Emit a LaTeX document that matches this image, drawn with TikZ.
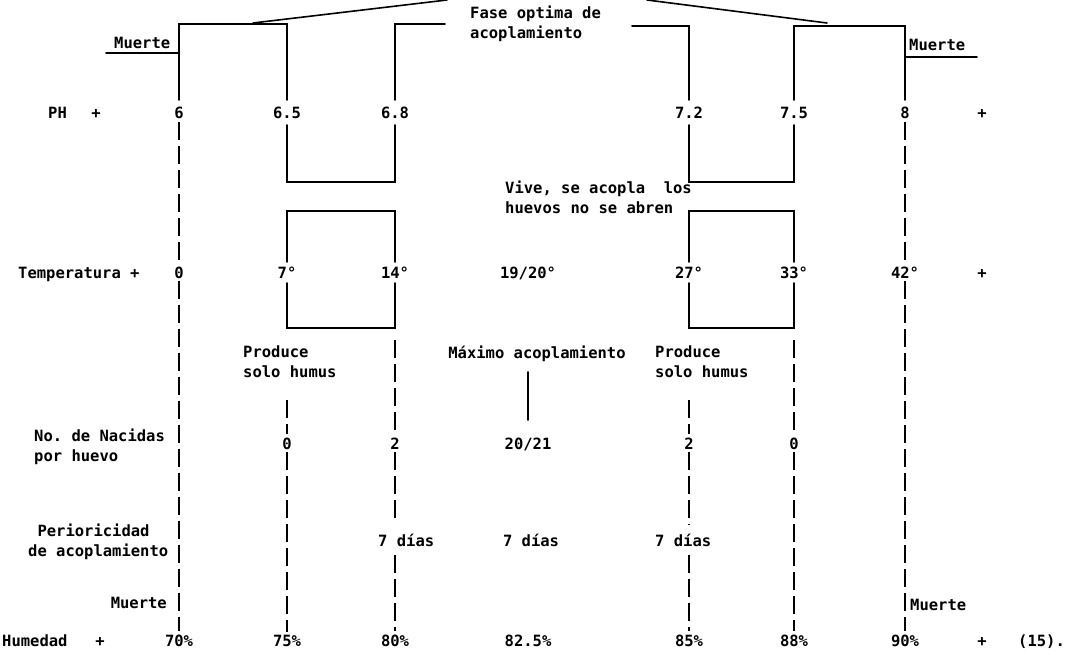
\documentclass[tikz,border=0pt]{standalone}
\usepackage{fontspec}
\setmonofont{DejaVu Sans Mono}
\usetikzlibrary{positioning}

\begin{document}
\begin{tikzpicture}[x=1pt, y=-1pt,
      txt/.style={font=\ttfamily\bfseries\fontsize{15.5}{20}\selectfont,
                  inner sep=0pt, anchor=base},
      lbl/.style={txt, anchor=base west, align=left},
      val/.style={txt, inner sep=3pt},
      rule/.style={line width=1.6pt, line cap=round},
      typed/.style={line width=1.5pt, dash pattern=on 18pt off 6pt},
    ]
    \useasboundingbox (0,0) rectangle (1067,655);
    %% column positions
    \def\xa{179} \def\xb{287} \def\xc{395} \def\xm{528}
    \def\xd{689} \def\xe{794} \def\xf{905}

    %% top: fase optima (base = last line)
    \node[lbl] (fase) at (470,39) {Fase optima de\\acoplamiento};
    \draw[rule] (\xa,100) -- (\xa,24) -- (\xb,24) -- (\xb,100);
    \draw[rule] (\xc,100) -- (\xc,24) -- (445,24);
    \draw[rule] (632,26) -- (\xd,26) -- (\xd,100);
    \draw[rule] (\xe,100) -- (\xe,26) -- (\xf,26) -- (\xf,100);
    \draw[rule] (253,23) -- (447,0);
    \draw[rule] (647,0) -- (827,23);
    %% muerte (top)
    \node[lbl] (muerte-l) at (114,49) {Muerte};
    \draw[rule] (106,53) -- (\xa,53);
    \node[lbl] (muerte-r) at (909,51) {Muerte};
    \draw[rule] (\xf,57) -- (977,57);

    %% PH row
    \node[lbl] (ph) at (48,119) {PH};
    \node[txt] (ph-p) at (96,119) {+};
    \node[val] (ph-a) at (\xa,119) {6};
    \node[val] (ph-b) at (\xb,119) {6.5};
    \node[val] (ph-c) at (\xc,119) {6.8};
    \node[val] (ph-d) at (\xd,119) {7.2};
    \node[val] (ph-e) at (\xe,119) {7.5};
    \node[val] (ph-f) at (\xf,119) {8};
    \node[txt] (ph-q) at (982,119) {+};

    %% boxes between the rows
    \foreach \l/\r in {\xb/\xc, \xd/\xe}{
        \draw[rule] (\l,125) -- (\l,182) -- (\r,182) -- (\r,125);
        \draw[rule] (\l,262) -- (\l,211) -- (\r,211) -- (\r,262);
        \draw[rule] (\l,283) -- (\l,328) -- (\r,328) -- (\r,283);
      }
    \node[lbl] (vive) at (505,213) {Vive, se acopla\ \ los\\huevos no se abren};

    %% temperature row
    \node[lbl] (temp) at (18,278) {Temperatura +};
    \node[val] (t-a) at (\xa,278) {0};
    \node[val] (t-b) at (\xb,278) {7°};
    \node[val] (t-c) at (\xc,278) {14°};
    \node[val] (t-m) at (\xm,278) {19/20°};
    \node[val] (t-d) at (\xd,278) {27°};
    \node[val] (t-e) at (\xe,278) {33°};
    \node[val] (t-f) at (\xf,278) {42°};
    \node[txt] (t-q) at (982,278) {+};

    \node[lbl] (prod-l) at (243,377) {Produce\\solo humus};
    \node[lbl] (prod-r) at (655,377) {Produce\\solo humus};
    \node[txt] (maximo) at (537,358) {Máximo acoplamiento};

    %% nacidas row
    \node[lbl] (nac) at (34,461) {No. de Nacidas\\por huevo};
    \node[val] (n-b) at (\xb,449) {0};
    \node[val] (n-c) at (\xc,449) {2};
    \node[val] (n-m) at (\xm,449) {20/21};
    \node[val] (n-d) at (\xd,449) {2};
    \node[val] (n-e) at (\xe,449) {0};
    \draw[rule] (\xm,372) -- (\xm,420);

    %% perioricidad row
    \node[lbl] (per) at (28,556) {\ Perioricidad\\de acoplamiento};
    \node[lbl] (p-c) at (378,546) {7 días};
    \node[txt] (p-m) at (531,546) {7 días};
    \node[lbl] (p-d) at (655,546) {7 días};

    %% muerte (bottom)
    \node[txt, anchor=base east] (muerte-bl) at (167,608) {Muerte};
    \node[lbl] (muerte-br) at (910,610) {Muerte};

    %% humedad row
    \node[lbl] (hum) at (2,646) {Humedad};
    \node[txt] (hum-p) at (100,646) {+};
    \node[val] (h-a) at (\xa,646) {70\%};
    \node[val] (h-b) at (\xb,646) {75\%};
    \node[val] (h-c) at (\xc,646) {80\%};
    \node[val] (h-m) at (\xm,646) {82.5\%};
    \node[val] (h-d) at (\xd,646) {85\%};
    \node[val] (h-e) at (\xe,646) {88\%};
    \node[val] (h-f) at (\xf,646) {90\%};
    \node[txt] (h-q) at (982,646) {+};
    \node[lbl] (ref) at (1018,646) {(15).};

    %% typed vertical lines
    \draw[typed] (ph-a.south) -- (t-a.north);
    \draw[typed] (t-a.south) -- (h-a.north);
    \draw[typed] (ph-f.south) -- (t-f.north);
    \draw[typed] (t-f.south) -- (h-f.north);
    \draw[typed] (\xb,400) -- (n-b.north);
    \draw[typed] (n-b.south) -- (h-b.north);
    \draw[typed] (\xc,340) -- (n-c.north);
    \draw[typed] (n-c.south) -- (\xc,522);
    \draw[typed] (\xc,555) -- (h-c.north);
    \draw[typed] (\xd,400) -- (n-d.north);
    \draw[typed] (n-d.south) -- (\xd,525);
    \draw[typed] (\xd,555) -- (h-d.north);
    \draw[typed] (\xe,340) -- (n-e.north);
    \draw[typed] (n-e.south) -- (h-e.north);
    \end{tikzpicture}
\end{document}
